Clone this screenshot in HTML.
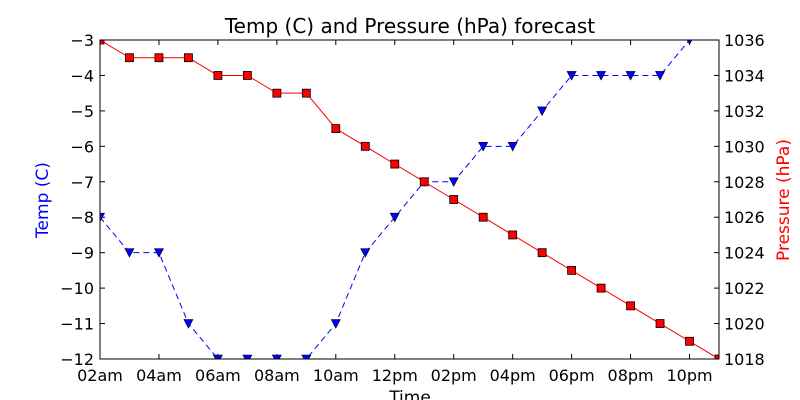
<!DOCTYPE html>
<html><head><meta charset="utf-8"><style>
body{margin:0;background:#fff;}
svg{display:block;font-family:"DejaVu Sans","Liberation Sans",sans-serif;}
</style></head><body>
<svg id="chart" width="800" height="400">
<defs><clipPath id="pc"><rect x="100" y="40" width="619" height="319"/></clipPath></defs>
<text x="410" y="33" font-size="20" text-anchor="middle">Temp (C) and Pressure (hPa) forecast</text>
<g id="axes"></g>
<g id="series" clip-path="url(#pc)"></g>
<rect x="100" y="40" width="619" height="319" fill="none" stroke="#000" stroke-width="1"/>
<text x="48" y="200" font-size="17" fill="blue" text-anchor="middle" transform="rotate(-90 48 200)">Temp (C)</text>
<text x="789" y="200" font-size="17" fill="red" text-anchor="middle" transform="rotate(-90 789 200)">Pressure (hPa)</text>
<text x="410" y="403" font-size="17" text-anchor="middle">Time</text>
</svg>
<script>
const hours=[2,3,4,5,6,7,8,9,10,11,12,13,14,15,16,17,18,19,20,21,22,23];
const temps=[-8,-9,-9,-11,-12,-12,-12,-12,-11,-9,-8,-7,-7,-6,-6,-5,-4,-4,-4,-4,-3,-2];
const pressures=[1036,1035,1035,1035,1034,1034,1033,1033,1031,1030,1029,1028,1027,1026,1025,1024,1023,1022,1021,1020,1019,1018];
const xTickHours=[2,4,6,8,10,12,14,16,18,20,22];
const xTickLabels=["02am","04am","06am","08am","10am","12pm","02pm","04pm","06pm","08pm","10pm"];
const tempTicks=[-3,-4,-5,-6,-7,-8,-9,-10,-11,-12];
const presTicks=[1036,1034,1032,1030,1028,1026,1024,1022,1020,1018];
const NS="http://www.w3.org/2000/svg";
const X0=100,X1=719,Y0=40,Y1=359;
const xs=h=>X0+(h-2)/(23-2)*(X1-X0);
const yT=v=>Y0+(-3-v)/9*(Y1-Y0);
const yP=v=>Y0+(1036-v)/18*(Y1-Y0);
const axes=document.getElementById('axes'),ser=document.getElementById('series');
function mk(tag,at,p){const e=document.createElementNS(NS,tag);for(const k in at)e.setAttribute(k,at[k]);p.appendChild(e);return e;}
xTickHours.forEach((h,i)=>{const x=xs(h);
 let l=mk('line',{x1:x,x2:x,y1:Y1,y2:Y1-5,stroke:'#000'},axes);
 
 
 l=mk('line',{x1:x,x2:x,y1:Y0,y2:Y0+5,stroke:'#000'},axes);
 
 
 const t=mk('text',{x:x,y:Y1+22,'font-size':16,'text-anchor':'middle'},axes);t.textContent=xTickLabels[i];
 
 });
tempTicks.forEach(v=>{const y=yT(v);
 const l=mk('line',{x1:X0,x2:X0+5,y1:y,y2:y,stroke:'#000'},axes);
 
 
 const t=mk('text',{x:X0-6,y:y+6,'font-size':16,'text-anchor':'end'},axes);t.textContent=String(v).replace('-','\u2212');
 
 });
presTicks.forEach(v=>{const y=yP(v);
 const l=mk('line',{x1:X1-5,x2:X1,y1:y,y2:y,stroke:'#000'},axes);
 
 
 const t=mk('text',{x:X1+5,y:y+6,'font-size':16},axes);t.textContent=v;
 
 });
let pl=mk('polyline',{points:hours.map((h,i)=>xs(h)+','+yT(temps[i])).join(' '),fill:'none',stroke:'blue','stroke-width':1,'stroke-dasharray':'6,4'},ser);


pl=mk('polyline',{points:hours.map((h,i)=>xs(h)+','+yP(pressures[i])).join(' '),fill:'none',stroke:'red','stroke-width':1},ser);


hours.forEach((h,i)=>{const x=xs(h),y=yT(temps[i]);
 const m=mk('polygon',{points:`${x-4.5},${y-4} ${x+4.5},${y-4} ${x},${y+4.5}`,fill:'blue',stroke:'#000','stroke-width':0.6},ser);
 
 });
hours.forEach((h,i)=>{const x=xs(h),y=yP(pressures[i]);
 const m=mk('rect',{x:x-4,y:y-4,width:8,height:8,fill:'red',stroke:'#000','stroke-width':0.8},ser);
 
 });
</script>
</body></html>
